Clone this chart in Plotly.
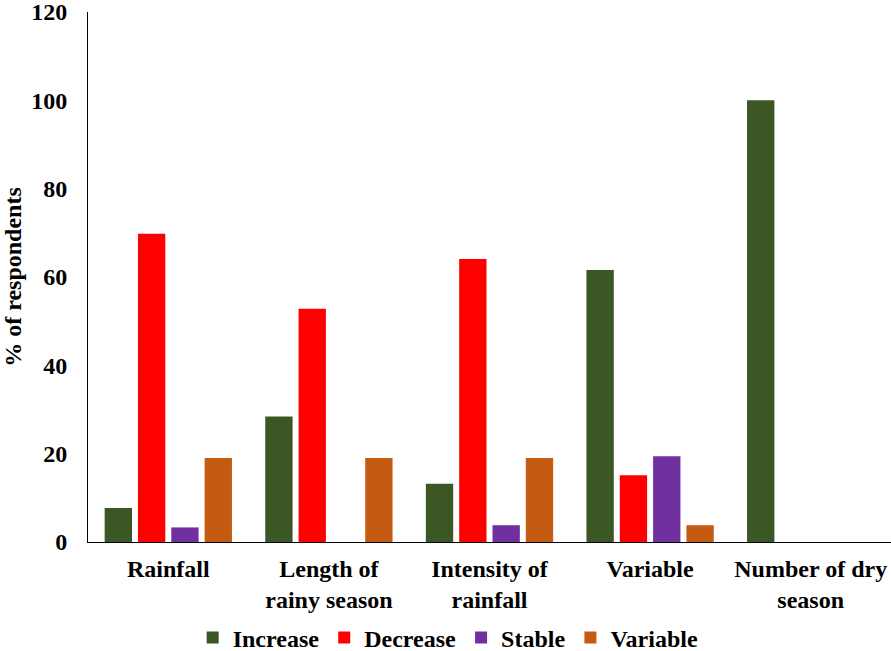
import plotly.graph_objects as go

categories = ["Rainfall", "Length of<br>rainy season", "Intensity of<br>rainfall",
              "Variable", "Number of dry<br>season"]
increase = [7.7, 28.4, 13.2, 61.6, 100.0]
decrease = [69.8, 52.8, 64.1, 15.1, 0]
stable = [3.3, 0, 3.8, 19.4, 0]
variable = [19.0, 19.0, 19.0, 3.8, 0]

series = [
    ("Increase", increase, "#3A5724"),
    ("Decrease", decrease, "#FF0000"),
    ("Stable", stable, "#7030A0"),
    ("Variable", variable, "#C55A11"),
]

FONT = "Times New Roman, Liberation Serif, DejaVu Serif, serif"
SIZE = 24

fig = go.Figure()
for name, vals, color in series:
    fig.add_trace(go.Bar(
        x=categories, y=vals, name=name,
        marker=dict(color=color, line=dict(width=0)),
    ))

fig.update_layout(
    width=891, height=651,
    margin=dict(l=88, r=0, t=12, b=109, autoexpand=False),
    paper_bgcolor="white", plot_bgcolor="white",
    barmode="group", bargap=0.17, bargroupgap=0.18,
    font=dict(family=FONT, color="black", size=SIZE),
    showlegend=True,
    legend=dict(
        orientation="h",
        xref="container", x=0.503, xanchor="center",
        yref="container", y=0.02, yanchor="middle",
        font=dict(family=FONT, size=SIZE, weight="bold"),
        itemwidth=30, traceorder="normal",
    ),
)

fig.update_xaxes(
    showline=True, linecolor="black", linewidth=1,
    showgrid=False, ticks="", ticklabelstandoff=5,
    tickfont=dict(family=FONT, size=SIZE, weight="bold"),
)
fig.update_yaxes(
    range=[0, 120], dtick=20, showline=True, linecolor="black", linewidth=1,
    showgrid=False, zeroline=False, ticks="", ticklabelstandoff=15,
    ticklabeloverflow="allow",
    tickfont=dict(family=FONT, size=SIZE, weight="bold"),
    title=dict(text="% of respondents", standoff=9,
               font=dict(family=FONT, size=SIZE, weight="bold")),
)

fig.write_html("out.html")
